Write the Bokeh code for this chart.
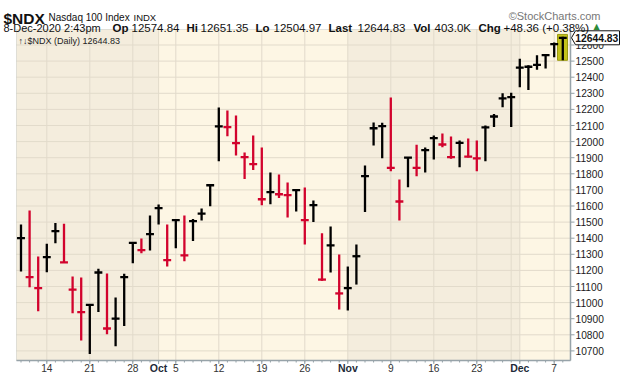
from bokeh.plotting import figure
from bokeh.models import Label, BoxAnnotation, ColumnDataSource, Range1d
from bokeh.core.properties import value
from bokeh.embed import file_html
from bokeh.resources import INLINE

# ---------------- data ----------------
dates = [
    "2020-09-09", "2020-09-10", "2020-09-11",
    "2020-09-14", "2020-09-15", "2020-09-16", "2020-09-17", "2020-09-18",
    "2020-09-21", "2020-09-22", "2020-09-23", "2020-09-24", "2020-09-25",
    "2020-09-28", "2020-09-29", "2020-09-30", "2020-10-01", "2020-10-02",
    "2020-10-05", "2020-10-06", "2020-10-07", "2020-10-08", "2020-10-09",
    "2020-10-12", "2020-10-13", "2020-10-14", "2020-10-15", "2020-10-16",
    "2020-10-19", "2020-10-20", "2020-10-21", "2020-10-22", "2020-10-23",
    "2020-10-26", "2020-10-27", "2020-10-28", "2020-10-29", "2020-10-30",
    "2020-11-02", "2020-11-03", "2020-11-04", "2020-11-05", "2020-11-06",
    "2020-11-09", "2020-11-10", "2020-11-11", "2020-11-12", "2020-11-13",
    "2020-11-16", "2020-11-17", "2020-11-18", "2020-11-19", "2020-11-20",
    "2020-11-23", "2020-11-24", "2020-11-25", "2020-11-27",
    "2020-11-30", "2020-12-01", "2020-12-02", "2020-12-03", "2020-12-04",
    "2020-12-07", "2020-12-08",
]
highs = [
    11485, 11572, 11286,
    11365, 11495, 11489, 11162, 11156,
    10988, 11210, 11181, 11032, 11179,
    11373, 11398, 11541, 11609, 11485,
    11514, 11541, 11520, 11584, 11731,
    12212, 12193, 12162, 11932, 12038,
    11964, 11808, 11796, 11746, 11700,
    11715, 11634, 11431, 11473, 11299,
    11224, 11361, 11852, 12119, 12117,
    12274, 11765, 11903, 11980, 11963,
    12038, 12050, 12032, 12007, 12019,
    12007, 12100, 12172, 12300,
    12303, 12514, 12475, 12537, 12540,
    12615, 12651.35,
]
lows = [
    11193, 11096, 10947,
    11189, 11369, 11247, 10934, 10765,
    10680, 10941, 10804, 10729, 10854,
    11245, 11307, 11324, 11485, 11224,
    11338, 11257, 11382, 11510, 11599,
    11878, 12034, 11914, 11767, 11823,
    11605, 11611, 11649, 11529, 11566,
    11361, 11500, 11135, 11187, 10957,
    10951, 11112, 11562, 11976, 11897,
    11816, 11510, 11717, 11785, 11808,
    11889, 11965, 11893, 11841, 11902,
    11816, 11878, 12090, 12213,
    12090, 12338, 12320, 12447, 12454,
    12524, 12504.97,
]
closes = [
    11400, 11158, 11090,
    11282, 11444, 11250, 11081, 10941,
    10986, 11187, 10839, 10901, 11158,
    11371, 11326, 11425, 11587, 11264,
    11512, 11293, 11506, 11553, 11729,
    12094, 12090, 11990, 11903, 11860,
    11642, 11686, 11673, 11667, 11698,
    11512, 11605, 11143, 11355, 11057,
    11090, 11288, 11785, 12083, 12096,
    11837, 11628, 11901, 11837, 11947,
    12021, 11982, 11903, 11992, 11907,
    11896, 12088, 12156, 12268,
    12276, 12460, 12465, 12477, 12537,
    12605, 12644.83,
]

tick_dates = ["2020-09-14", "2020-09-21", "2020-09-28", "2020-10-01", "2020-10-05",
              "2020-10-12", "2020-10-19", "2020-10-26", "2020-11-02", "2020-11-09",
              "2020-11-16", "2020-11-23", "2020-12-01", "2020-12-07"]
tick_labels = ["14", "21", "28", "Oct", "5", "12", "19", "26", "Nov", "9", "16", "23", "Dec", "7"]
extra_grid_dates = ["2020-11-30"]
month_labels = ["Oct", "Nov", "Dec"]
y_ticks = [10700, 10800, 10900, 11000, 11100, 11200, 11300, 11400, 11500, 11600,
           11700, 11800, 11900, 12000, 12100, 12200, 12300, 12400, 12500, 12600]

header_info = {
    "symbol": "$NDX", "name": "Nasdaq 100 Index", "exchange": "INDX",
    "stamp": "8-Dec-2020 2:43pm", "op": "12574.84", "hi": "12651.35", "lo": "12504.97",
    "last": "12644.83", "vol": "403.0K", "chg": "+48.36 (+0.38%)",
}

# ---------------- layout / styling ----------------
W, H = 620, 376
FONT = "Liberation Sans"
UP = "#000000"
DOWN = "#D2032D"
DARK_BG = "#F4EDDD"
LIGHT_BG = "#FDF6E4"
GRID = "#E2DBCB"
AXIS = "#93A0A6"
OUTLINE = "#A3ACB0"

# pixel geometry of the price panel (canvas pixels)
PX_DAY = 8.6          # pixels per trading day
X0_PX = 20.5          # canvas x of the first bar
PX_PT = 0.161         # pixels per index point
REF_V, REF_PX = 10700, 350.4
PANEL_L, PANEL_R, PANEL_T, PANEL_B = 16, 570, 29, 360


def dx(px):
    return px / PX_DAY


def dy(px):
    return px / PX_PT


def cx2x(cx):
    return (cx - X0_PX) / PX_DAY


def cy2y(cy):
    return REF_V + (REF_PX - cy) / PX_PT


XL, XR = cx2x(PANEL_L), cx2x(PANEL_R)
YT, YB = cy2y(PANEL_T), cy2y(PANEL_B)

n = len(dates)
xs = list(range(n))
colors = [UP if i == 0 or closes[i] >= closes[i - 1] else DOWN for i in range(n)]
half = 0.46
src = ColumnDataSource(dict(
    x=xs, xl=[x - half for x in xs], xr=[x + half for x in xs],
    high=highs, low=lows, close=closes, color=colors,
))

p = figure(width=W, height=H, x_range=Range1d(cx2x(0), cx2x(W)),
           y_range=Range1d(cy2y(H), cy2y(0)),
           x_axis_location=None, y_axis_location=None,
           output_backend="svg", toolbar_location=None,
           min_border=0, min_border_left=0, min_border_right=0,
           min_border_top=0, min_border_bottom=0,
           background_fill_color="white", border_fill_color="white")
p.outline_line_color = None
p.xgrid.visible = False
p.ygrid.visible = False

# panel background with alternating month shading
p.add_layout(BoxAnnotation(left=XL, right=XR, bottom=YB, top=YT, fill_color=LIGHT_BG,
                           fill_alpha=1, line_alpha=0, level="image"))
month_starts = [i for i in range(1, n) if dates[i][:7] != dates[i - 1][:7]]
bounds = [XL] + month_starts + [XR]
for k in range(len(bounds) - 1):
    if k % 2 == 0:
        p.add_layout(BoxAnnotation(left=bounds[k], right=bounds[k + 1], bottom=YB, top=YT,
                                   fill_color=DARK_BG, fill_alpha=1, line_alpha=0,
                                   level="image"))

tick_idx = [dates.index(d) for d in tick_dates]
grid_idx = sorted(tick_idx + [dates.index(d) for d in extra_grid_dates])

# grid lines
p.segment(x0=grid_idx, x1=grid_idx, y0=[YB] * len(grid_idx), y1=[YT] * len(grid_idx),
          line_color=GRID, line_width=1, level="underlay")
p.segment(x0=[XL] * len(y_ticks), x1=[XR] * len(y_ticks), y0=y_ticks, y1=y_ticks,
          line_color=GRID, line_width=1, level="underlay")

# highlight of the latest bar
last = n - 1
p.quad(left=[last - dx(5.3)], right=[last + dx(4.7)], top=[highs[last] + dy(2.3)],
       bottom=[lows[last]], fill_color="#C4C21C", line_color="#9C9A10", line_width=1)

# HLC bars
p.segment(x0="x", y0="low", x1="x", y1="high", line_color="color",
          line_width=2.3, source=src)
p.segment(x0="xl", y0="close", x1="xr", y1="close", line_color="color",
          line_width=2.3, source=src)

# panel border and axes lines
p.add_layout(BoxAnnotation(left=XL, right=XR, bottom=YB, top=YT, fill_alpha=0,
                           line_color=OUTLINE, line_width=1))
p.segment(x0=[XR], x1=[XR], y0=[YB], y1=[YT], line_color=AXIS, line_width=1.5)
p.segment(x0=[XL], x1=[XR], y0=[YB], y1=[YB], line_color=AXIS, line_width=1.5)

# y axis ticks and labels (right side)
p.segment(x0=[XR] * len(y_ticks), x1=[XR + dx(4)] * len(y_ticks), y0=y_ticks, y1=y_ticks,
          line_color=AXIS, line_width=1)
p.text(x=[XR + dx(5)] * len(y_ticks), y=y_ticks, text=[str(v) for v in y_ticks],
       text_font=value(FONT), text_font_size=value("10.2px"), text_color="#1A1A1A",
       text_baseline="middle", text_align="left")

# x axis ticks and labels
p.segment(x0=xs, x1=xs, y0=[YB] * n, y1=[YB - dy(2)] * n, line_color=AXIS, line_width=1)
p.segment(x0=tick_idx, x1=tick_idx, y0=[YB] * len(tick_idx),
          y1=[YB - dy(3.5)] * len(tick_idx), line_color=AXIS, line_width=1)
num_x = [i for i, t in zip(tick_idx, tick_labels) if t not in month_labels]
num_t = [t for t in tick_labels if t not in month_labels]
mon_x = [i for i, t in zip(tick_idx, tick_labels) if t in month_labels]
mon_t = [t for t in tick_labels if t in month_labels]
ylab = cy2y(367)
p.text(x=num_x, y=[ylab] * len(num_x), text=num_t, text_font=value(FONT),
       text_font_size=value("10.2px"), text_color="#333333",
       text_align="center", text_baseline="middle")
p.text(x=mon_x, y=[ylab] * len(mon_x), text=mon_t, text_font=value(FONT),
       text_font_size=value("10.5px"), text_font_style="bold", text_color="#1E2B38",
       text_align="center", text_baseline="middle")

# price tag at the right of the latest close
tag_y = closes[last]
tx = [XR + dx(1), XR + dx(5), XR + dx(49), XR + dx(49), XR + dx(5)]
ty = [tag_y, tag_y + dy(7), tag_y + dy(7), tag_y - dy(7), tag_y - dy(7)]
p.patch(x=tx, y=ty, fill_color="white", line_color="#111111", line_width=1)
p.text(x=[XR + dx(4.8)], y=[tag_y], text=[f"{closes[last]:.2f}"], text_font=value(FONT),
       text_font_size=value("10.3px"), text_font_style="bold", text_color="#111111",
       text_baseline="middle", text_align="left")


# texts placed in canvas pixels (the frame covers the whole canvas)
def head(text, cx, base, size, bold=False, color="#111111", font=FONT, align="left"):
    p.add_layout(Label(x=cx, y=H - base, x_units="screen", y_units="screen",
                       text=text, text_font=font, text_font_size=size,
                       text_font_style="bold" if bold else "normal", text_color=color,
                       text_align=align, text_baseline="alphabetic"))


# legend inside the panel
head(f"\u2191\u2193{header_info['symbol']} (Daily) {header_info['last']}", 18, 40,
     "9px", color="#222222")

head(header_info["symbol"], 3, 18, "15.5px", bold=True)
head(header_info["name"], 48, 17, "10px")
head(header_info["exchange"], 133, 17, "9.5px")
head("\u00a9StockCharts.com", 600, 15, "11px", color="#777777", align="right")

row2 = 27
head(header_info["stamp"], 3, row2, "11px")
head("Op", 112, row2, "11.5px", bold=True)
head(header_info["op"], 131, row2, "11.5px")
head("Hi", 186, row2, "11.5px", bold=True)
head(header_info["hi"], 200, row2, "11.5px")
head("Lo", 255, row2, "11.5px", bold=True)
head(header_info["lo"], 273, row2, "11.5px")
head("Last", 328, row2, "11.5px", bold=True)
head(header_info["last"], 357, row2, "11.5px")
head("Vol", 413, row2, "11.5px", bold=True)
head(header_info["vol"], 434, row2, "11.5px")
head("Chg", 478, row2, "11.5px", bold=True)
head(header_info["chg"], 503, row2, "11.5px")
head("\u25b2", 593, row2 - 1, "8px", color="#2E8B3A", font="DejaVu Sans")

open("out.html", "w").write(file_html(p, INLINE))
